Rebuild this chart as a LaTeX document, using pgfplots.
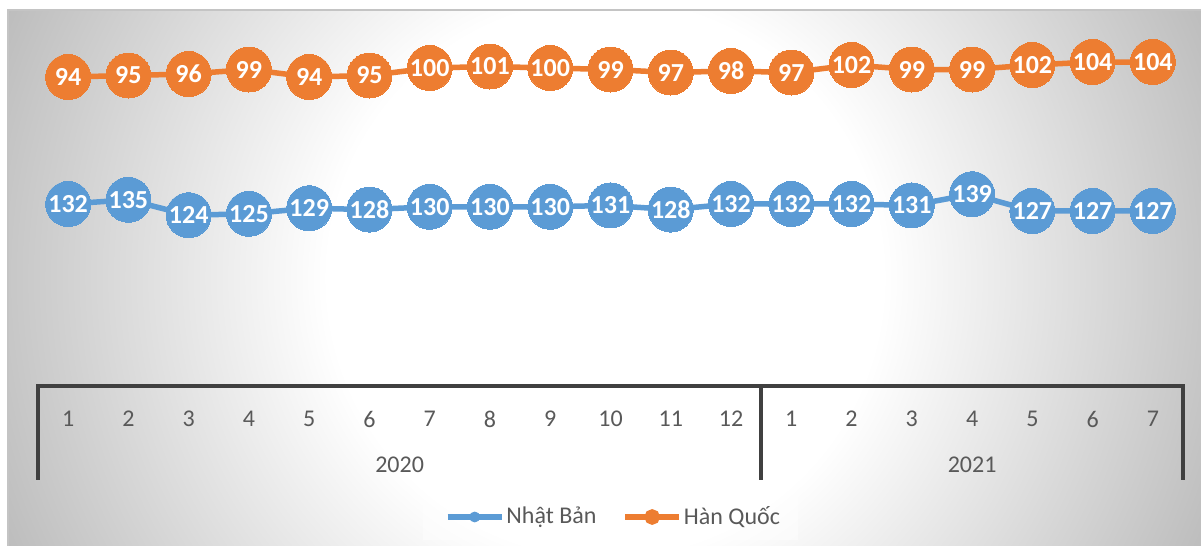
\documentclass[border=0pt]{standalone}
\usepackage{pgfplots}
\pgfplotsset{compat=1.18}
\usepackage{fontspec}
\setmainfont{Carlito}

\definecolor{jpblue}{HTML}{5B9BD5}
\definecolor{krorange}{HTML}{ED7D31}
\definecolor{axisline}{HTML}{404040}
\definecolor{labeltext}{HTML}{595959}
\definecolor{edgegray}{HTML}{BCBCBC}
\definecolor{chartborder}{HTML}{C4C4C4}

% radial fill: the inner 25bp radius is fitted to the circle that is shaded
\pgfdeclareradialshading{chartbg}{\pgfpoint{0bp}{0bp}}{%
  color(0bp)=(white); color(10.5bp)=(white); color(25bp)=(edgegray);
  color(50bp)=(edgegray)}

\pgfplotsset{
  panel/.style={at={(19pt,80pt)}, anchor=south west, scale only axis,
    width=572.5pt, height=188pt, xmin=-0.5, xmax=18.5, clip=false,
    /pgf/number format/assume math mode=true},
  series/.style={line width=2.75pt, color=#1, mark=*, mark size=11.25pt,
    mark options={solid, line width=0pt, draw=#1, fill=#1},
    nodes near coords,
    every node near coord/.append style={anchor=center, text=white,
      font=\bfseries\fontsize{13}{15}\selectfont}},
  legline/.style={legend image code/.code={
      \draw[#1, line width=2.75pt] (0pt,0pt) -- (27pt,0pt);
      \fill[#1] (13.5pt,0pt) circle (2.5pt);}},
}

\begin{document}
\begin{tikzpicture}
\path[use as bounding box] (0,0) rectangle (600.5pt,273pt);
\fill[white] (0,0) rectangle (600.5pt,273pt);
% chart area with a radial fill
\begin{scope}
  \clip (4pt,0pt) rectangle (600.5pt,268pt);
  \shade[shading=chartbg] (302.5pt,134pt) circle (330pt);
\end{scope}
\draw[chartborder, line width=0.6pt] (4pt,0pt) -- (4pt,268pt) -- (600.5pt,268pt);
% legend panel
\fill[white, fill opacity=0.45] (211.5pt,3pt) rectangle (399pt,26pt);

% Nhat Ban series and the two-level month/year axis
\begin{axis}[panel, ymin=2, ymax=270.57,
    axis y line=none, axis x line*=bottom,
    x axis line style={draw=none}, xtick style={draw=none},
    xtick={0,...,18},
    xticklabels={1,2,3,4,5,6,7,8,9,10,11,12,1,2,3,4,5,6,7},
    major tick length=0pt, xtick align=inside,
    xticklabel style={anchor=center, yshift=-16.5pt,
      font=\fontsize{12}{14}\selectfont, text=labeltext}]
  \addplot[series=jpblue] coordinates {
    (0,132) (1,135) (2,124) (3,125) (4,129) (5,128) (6,130) (7,130)
    (8,130) (9,131) (10,128) (11,132) (12,132) (13,132) (14,131)
    (15,139) (16,127) (17,127) (18,127)};
  \draw[axisline, line width=1.8pt, line join=miter]
    ([yshift=-47pt]axis cs:-0.5,2) -- (axis cs:-0.5,2) -- (axis cs:18.5,2)
    -- ([yshift=-47pt]axis cs:18.5,2);
  \draw[axisline, line width=1.8pt]
    (axis cs:11.5,2) -- ([yshift=-47pt]axis cs:11.5,2);
  \node[text=labeltext, font=\fontsize{12}{14}\selectfont]
    at ([yshift=-39.5pt]axis cs:5.5,2) {2020};
  \node[text=labeltext, font=\fontsize{12}{14}\selectfont]
    at ([yshift=-39.5pt]axis cs:15,2) {2021};
\end{axis}

% Han Quoc series on its own scale
\begin{axis}[panel, ymin=-112, ymax=138.67, hide axis,
    legend columns=2,
    legend style={at={(0.5026,-0.3484)}, anchor=center, draw=none,
      fill=none, font=\fontsize{12}{14}\selectfont, text=labeltext,
      nodes={inner sep=1pt},
      /tikz/every even column/.append style={column sep=12pt},
      /tikz/every odd column/.append style={column sep=0pt}}]
  \addlegendimage{legline=jpblue}
  \addlegendentry{Nhật Bản}
  \addplot[series=krorange, legline=krorange] coordinates {
    (0,94) (1,95) (2,96) (3,99) (4,94) (5,95) (6,100) (7,101)
    (8,100) (9,99) (10,97) (11,98) (12,97) (13,102) (14,99)
    (15,99) (16,102) (17,104) (18,104)};
  \addlegendentry{Hàn Quốc}
\end{axis}
\end{tikzpicture}
\end{document}
